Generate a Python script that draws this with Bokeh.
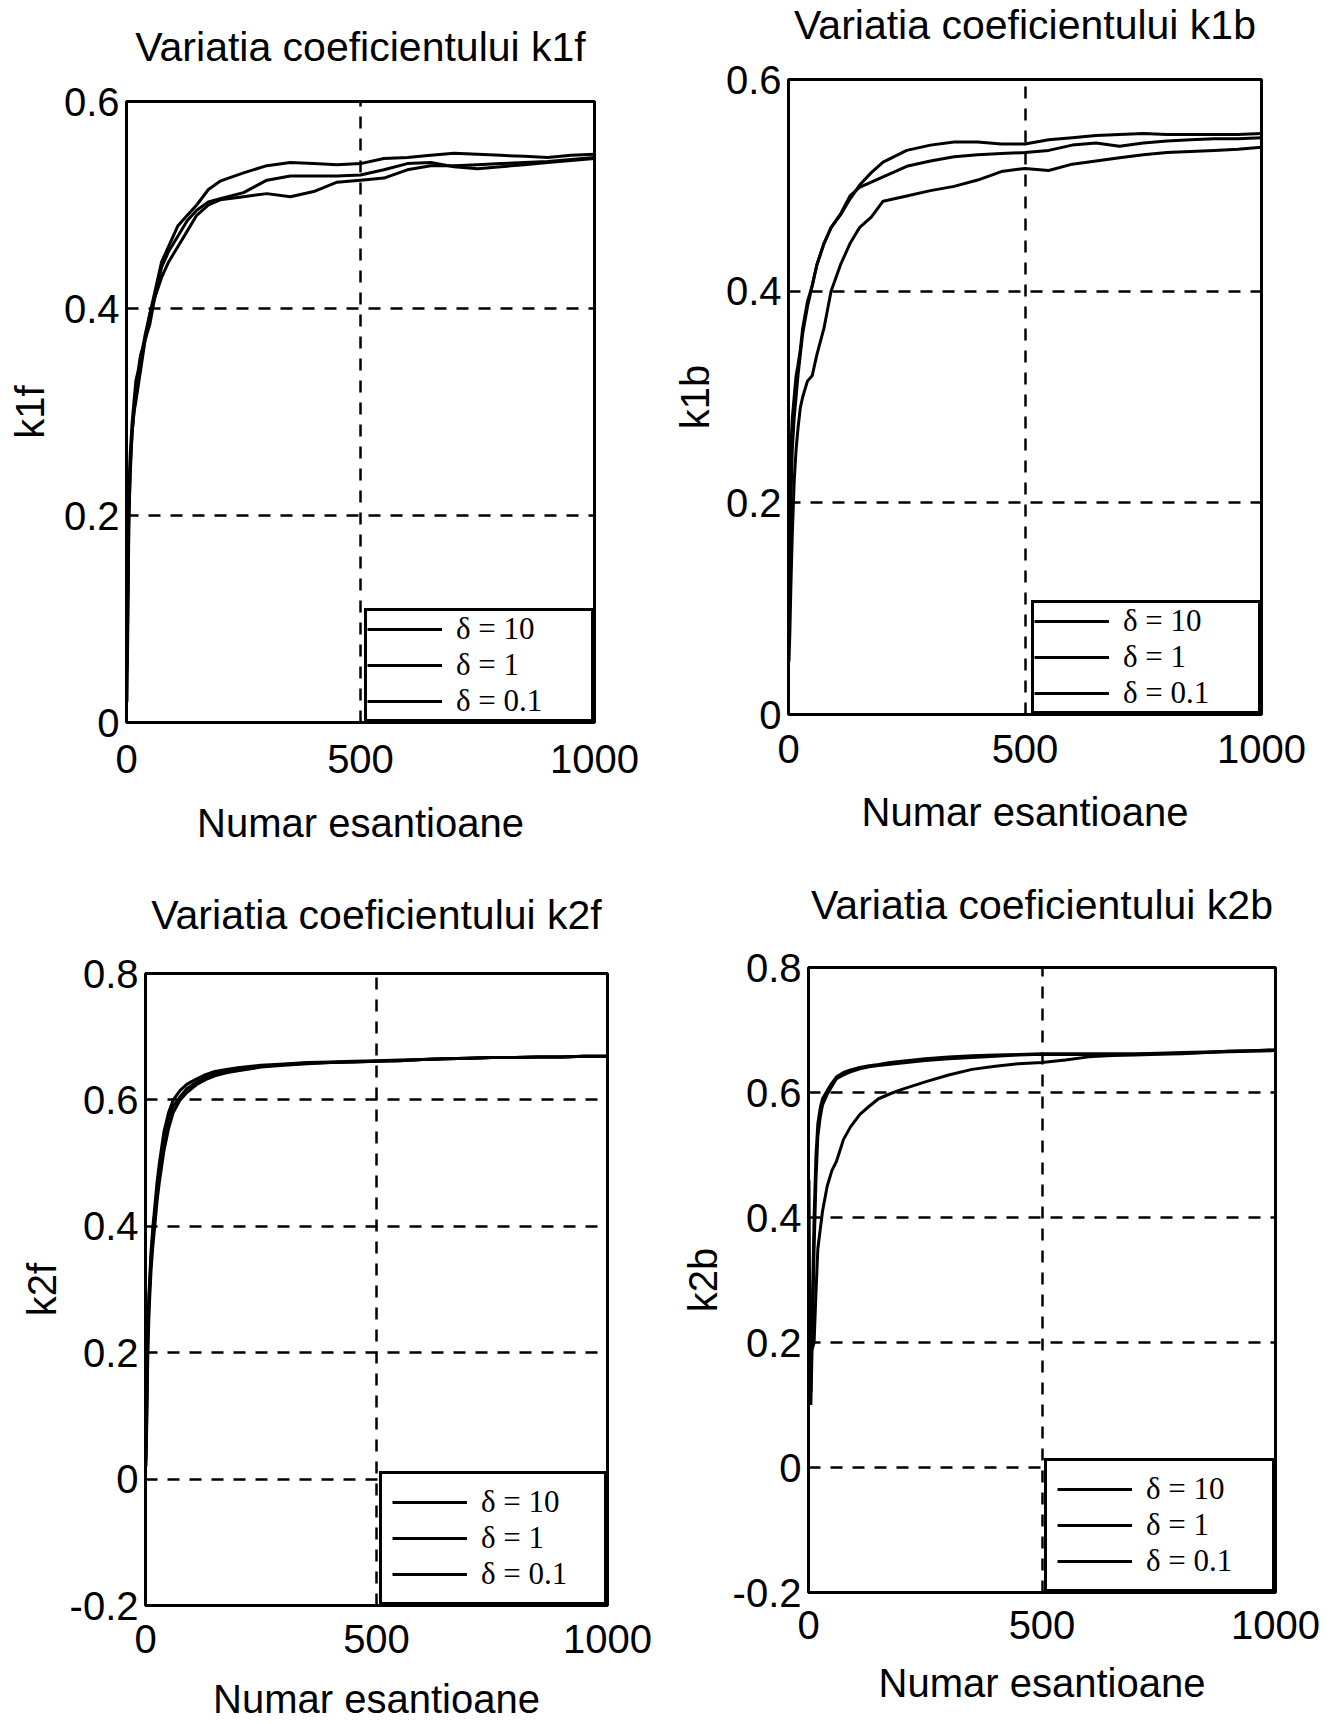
from bokeh.plotting import figure
from bokeh.models import FixedTicker, NumeralTickFormatter, Legend, LegendItem, Range1d
from bokeh.layouts import row, column
from bokeh.embed import file_html
from bokeh.resources import INLINE

# ---------------- data ----------------
x_samples = [1, 3, 5, 8, 12, 16, 20, 25, 30, 40, 50, 60, 75, 90, 110, 130, 150,
             175, 200, 250, 300, 350, 400, 450, 500, 550, 600, 650, 700, 750,
             800, 850, 900, 950, 1000]

legend_labels = ["δ = 10", "δ = 1", "δ = 0.1"]
x_ticks = [0, 500, 1000]
y_ticks_k1 = [0, 0.2, 0.4, 0.6]
y_ticks_k2 = [-0.2, 0, 0.2, 0.4, 0.6, 0.8]

k1f_d10 = [0.02, 0.10, 0.19, 0.25, 0.28, 0.30, 0.31, 0.325, 0.34, 0.37, 0.395,
           0.415, 0.445, 0.46, 0.48, 0.49, 0.50, 0.515, 0.523, 0.531, 0.538,
           0.541, 0.540, 0.539, 0.540, 0.545, 0.546, 0.548, 0.550, 0.549, 0.548,
           0.547, 0.546, 0.548, 0.549]
k1f_d1 = [0.05, 0.12, 0.20, 0.24, 0.28, 0.30, 0.32, 0.335, 0.35, 0.375, 0.395,
          0.41, 0.44, 0.455, 0.47, 0.485, 0.495, 0.503, 0.506, 0.512, 0.524,
          0.528, 0.528, 0.528, 0.529, 0.534, 0.540, 0.541, 0.537, 0.535, 0.537,
          0.539, 0.541, 0.543, 0.545]
k1f_d01 = [0.08, 0.15, 0.22, 0.26, 0.29, 0.31, 0.33, 0.34, 0.355, 0.37, 0.385,
           0.41, 0.43, 0.445, 0.46, 0.475, 0.49, 0.50, 0.505, 0.508, 0.511,
           0.508, 0.513, 0.522, 0.524, 0.526, 0.534, 0.538, 0.538, 0.539, 0.540,
           0.541, 0.542, 0.544, 0.546]

k1b_d10 = [0.10, 0.15, 0.25, 0.28, 0.30, 0.32, 0.33, 0.345, 0.365, 0.39, 0.405,
           0.425, 0.445, 0.46, 0.472, 0.487, 0.50, 0.512, 0.522, 0.533, 0.538,
           0.541, 0.541, 0.539, 0.539, 0.543, 0.545, 0.547, 0.548, 0.549, 0.548,
           0.548, 0.548, 0.548, 0.549]
k1b_d1 = [0.07, 0.12, 0.20, 0.25, 0.28, 0.30, 0.32, 0.34, 0.36, 0.385, 0.405,
          0.425, 0.445, 0.46, 0.473, 0.49, 0.498, 0.503, 0.508, 0.518, 0.523,
          0.527, 0.529, 0.530, 0.531, 0.533, 0.538, 0.540, 0.537, 0.540, 0.542,
          0.543, 0.544, 0.544, 0.545]
k1b_d01 = [0.05, 0.08, 0.12, 0.17, 0.22, 0.25, 0.27, 0.29, 0.30, 0.315, 0.32,
           0.34, 0.365, 0.40, 0.425, 0.445, 0.46, 0.47, 0.485, 0.49, 0.495,
           0.499, 0.505, 0.513, 0.516, 0.514, 0.520, 0.523, 0.526, 0.529, 0.531,
           0.532, 0.533, 0.534, 0.536]

k2f_d10 = [0.05, 0.15, 0.25, 0.30, 0.36, 0.40, 0.43, 0.47, 0.50, 0.55, 0.58,
           0.60, 0.615, 0.625, 0.633, 0.640, 0.645, 0.648, 0.651, 0.655, 0.657,
           0.659, 0.660, 0.661, 0.662, 0.663, 0.664, 0.665, 0.666, 0.667, 0.667,
           0.668, 0.668, 0.669, 0.669]
k2f_d1 = [0.02, 0.10, 0.20, 0.27, 0.33, 0.37, 0.40, 0.44, 0.47, 0.52, 0.555,
          0.58, 0.60, 0.612, 0.624, 0.632, 0.638, 0.643, 0.646, 0.652, 0.655,
          0.657, 0.659, 0.660, 0.661, 0.662, 0.664, 0.665, 0.666, 0.667, 0.667,
          0.668, 0.668, 0.669, 0.669]
k2f_d01 = [0.03, 0.12, 0.22, 0.29, 0.35, 0.39, 0.42, 0.46, 0.49, 0.535, 0.57,
           0.59, 0.605, 0.618, 0.628, 0.636, 0.641, 0.645, 0.648, 0.653, 0.656,
           0.658, 0.659, 0.660, 0.661, 0.662, 0.664, 0.665, 0.666, 0.667, 0.667,
           0.668, 0.668, 0.669, 0.669]

k2b_d10 = [0.46, 0.20, 0.10, 0.20, 0.35, 0.46, 0.53, 0.56, 0.58, 0.597, 0.61,
           0.622, 0.628, 0.633, 0.638, 0.641, 0.643, 0.645, 0.647, 0.651, 0.654,
           0.656, 0.658, 0.660, 0.661, 0.661, 0.661, 0.661, 0.661, 0.662, 0.663,
           0.664, 0.666, 0.667, 0.668]
k2b_d1 = [0.30, 0.22, 0.19, 0.19, 0.20, 0.28, 0.35, 0.38, 0.41, 0.45, 0.475,
          0.49, 0.525, 0.545, 0.565, 0.578, 0.59, 0.598, 0.605, 0.617, 0.628,
          0.637, 0.642, 0.646, 0.648, 0.652, 0.657, 0.659, 0.660, 0.661, 0.662,
          0.664, 0.665, 0.666, 0.667]
k2b_d01 = [0.30, 0.15, 0.12, 0.25, 0.40, 0.50, 0.55, 0.575, 0.59, 0.603, 0.615,
           0.625, 0.632, 0.636, 0.640, 0.643, 0.645, 0.648, 0.650, 0.654, 0.657,
           0.659, 0.660, 0.661, 0.662, 0.662, 0.662, 0.662, 0.662, 0.663, 0.664,
           0.665, 0.666, 0.667, 0.668]

titles = ["Variatia coeficientului k1f", "Variatia coeficientului k1b",
          "Variatia coeficientului k2f", "Variatia coeficientului k2b"]
ylabels = ["k1f", "k1b", "k2f", "k2b"]
xlabel = "Numar esantioane"

SANS = "Liberation Sans"
SERIF = "Liberation Serif"
EXTRA = 40   # hidden slack above/below each canvas, absorbed by negative margins


def make_panel(title, ylabel, yticks, series, geo, offs, leg):
    w, h, bl, br, bt, bb = geo
    t_stand, t_off, xt_stand, xl_stand, yl_stand = offs
    leg_pad, leg_lw = leg
    p = figure(width=w, height=h + 2 * EXTRA,
               x_range=Range1d(0, 1000), y_range=Range1d(yticks[0], yticks[-1]),
               output_backend="svg", toolbar_location=None,
               min_border_left=bl, min_border_right=br,
               min_border_top=bt + EXTRA, min_border_bottom=bb + EXTRA,
               background_fill_color="white", border_fill_alpha=0,
               margin=(-EXTRA, 0, -EXTRA, 0), frame_align=False)
    p.title.text = title
    p.title.text_font = SANS
    p.title.text_font_size = "41px"
    p.title.text_font_style = "normal"
    p.title.text_color = "black"
    p.title.align = "center"
    p.title.standoff = t_stand
    p.title.offset = t_off

    p.xaxis.ticker = FixedTicker(ticks=x_ticks)
    p.yaxis.ticker = FixedTicker(ticks=yticks)
    p.xaxis.formatter = NumeralTickFormatter(format="0")
    p.yaxis.formatter = NumeralTickFormatter(format="0.[0]")
    for ax in (p.xaxis, p.yaxis):
        ax.axis_line_color = None
        ax.major_tick_line_color = None
        ax.minor_tick_line_color = None
        ax.major_tick_out = 0
        ax.major_tick_in = 0
        ax.minor_tick_out = 0
        ax.minor_tick_in = 0
        ax.major_label_text_font = SANS
        ax.major_label_text_font_size = "40px"
        ax.major_label_text_color = "black"
        ax.axis_label_text_font = SANS
        ax.axis_label_text_font_size = "40px"
        ax.axis_label_text_font_style = "normal"
        ax.axis_label_text_color = "black"
    p.xaxis.axis_label = xlabel
    p.yaxis.axis_label = ylabel
    p.xaxis.major_label_standoff = xt_stand
    p.yaxis.major_label_standoff = 7
    p.xaxis.axis_label_standoff = xl_stand
    p.yaxis.axis_label_standoff = yl_stand

    for g in (p.xgrid, p.ygrid):
        g.grid_line_color = "black"
        g.grid_line_dash = "12 10"
        g.grid_line_width = 2.5
        g.grid_line_alpha = 1

    p.outline_line_color = "black"
    p.outline_line_width = 3
    p.outline_line_alpha = 1

    items = []
    for lab, ys in zip(legend_labels, series):
        r = p.line(x_samples, ys, line_color="black", line_width=3)
        items.append(LegendItem(label=lab, renderers=[r]))
    legend = Legend(items=items, location="bottom_right", margin=0,
                    padding=leg_pad, spacing=0, glyph_width=75, glyph_height=20,
                    label_standoff=14, label_width=leg_lw, label_height=20,
                    label_text_font=SERIF, label_text_font_size="31px",
                    label_text_color="black",
                    border_line_color="black", border_line_width=3,
                    border_line_alpha=1,
                    background_fill_color="white", background_fill_alpha=1)
    p.add_layout(legend)
    return p


# geometry: width, height, border left/right/top/bottom (pixels)
# offsets: title standoff, title offset, x tick-label standoff, x label standoff,
#          y label standoff
p1 = make_panel(titles[0], ylabels[0], y_ticks_k1, [k1f_d10, k1f_d1, k1f_d01],
                (665, 862, 126, 71, 101, 140), (64, -10, 22, 25, 9), (0, 135))
p2 = make_panel(titles[1], ylabels[1], y_ticks_k1, [k1b_d10, k1b_d1, k1b_d01],
                (666, 862, 123, 70, 79, 148), (64, -12, 20, 24, 6), (0, 135))
p3 = make_panel(titles[2], ylabels[2], y_ticks_k2, [k2f_d10, k2f_d1, k2f_d01],
                (665, 862, 145, 58, 111, 119), (71, 9, 19, 21, 3), (10, 113))
p4 = make_panel(titles[3], ylabels[3], y_ticks_k2, [k2b_d10, k2b_d1, k2b_d01],
                (666, 862, 143, 56, 105, 132), (79, -12, 18, 19, 5), (10, 116))

layout = column(row(p1, p2, spacing=0), row(p3, p4, spacing=0), spacing=0)

open("out.html", "w").write(file_html(layout, INLINE))
